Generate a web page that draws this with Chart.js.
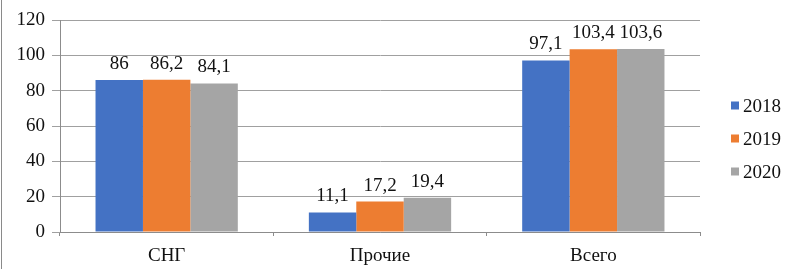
<!DOCTYPE html>
<html>
<head>
<meta charset="utf-8">
<script src="https://cdn.jsdelivr.net/npm/chart.js@4/dist/chart.umd.min.js"></script>
<style>
html,body{margin:0;padding:0;background:#fff;}
#wrap{width:801px;height:269px;position:relative;}
</style>
</head>
<body>
<div id="wrap"><canvas id="c" width="801" height="269"></canvas></div>
<script>
const categories = ['СНГ', 'Прочие', 'Всего'];
const seriesNames = ['2018', '2019', '2020'];
const values2018 = [86, 11.1, 97.1];
const values2019 = [86.2, 17.2, 103.4];
const values2020 = [84.1, 19.4, 103.6];
const yTicks = [0, 20, 40, 60, 80, 100, 120];
const colors = ['#4472C4', '#ED7D31', '#A5A5A5'];

const FONT = "'Liberation Serif', 'Times New Roman', serif";
const FS = 19;

const labelPlugin = {
  id: 'barLabels',
  afterDatasetsDraw(chart) {
    const ctx = chart.ctx;
    ctx.save();
    ctx.font = FS + 'px ' + FONT;
    ctx.fillStyle = '#111';
    ctx.textAlign = 'center';
    ctx.textBaseline = 'alphabetic';
    chart.data.datasets.forEach((ds, i) => {
      const meta = chart.getDatasetMeta(i);
      meta.data.forEach((el, j) => {
        const txt = String(ds.data[j]).replace('.', ',');
        ctx.fillText(txt, el.x, el.y - 11);
      });
    });
    ctx.restore();
  }
};

// legend drawn to the right of the plot, from dataset labels and colours
const legendPlugin = {
  id: 'sideLegend',
  afterDraw(chart) {
    const ctx = chart.ctx;
    const area = chart.chartArea;
    ctx.save();
    ctx.font = FS + 'px ' + FONT;
    ctx.fillStyle = '#111';
    ctx.textAlign = 'left';
    ctx.textBaseline = 'alphabetic';
    const x0 = area.right + 31;
    const yMid = (area.top + area.bottom) / 2 + 12.5;
    const step = 33;
    const n = chart.data.datasets.length;
    chart.data.datasets.forEach((ds, i) => {
      const cy = yMid + (i - (n - 1) / 2) * step;
      ctx.fillStyle = ds.backgroundColor;
      ctx.fillRect(x0, cy - 4, 8, 8);
      ctx.fillStyle = '#111';
      ctx.fillText(ds.label, x0 + 12, cy + 6.5);
    });
    ctx.restore();
  }
};

const borderPlugin = {
  id: 'frame',
  afterDraw(chart) {
    const ctx = chart.ctx;
    ctx.save();
    ctx.strokeStyle = '#8a8a8a';
    ctx.lineWidth = 1;
    ctx.beginPath();
    ctx.moveTo(1.5, 0);
    ctx.lineTo(1.5, chart.height);
    ctx.stroke();
    ctx.restore();
  }
};

new Chart(document.getElementById('c'), {
  type: 'bar',
  data: {
    labels: categories,
    datasets: [
      { label: seriesNames[0], data: values2018, backgroundColor: colors[0] },
      { label: seriesNames[1], data: values2019, backgroundColor: colors[1] },
      { label: seriesNames[2], data: values2020, backgroundColor: colors[2] }
    ]
  },
  options: {
    responsive: false,
    animation: false,
    devicePixelRatio: 1,
    layout: { padding: { top: 20, left: 0, right: 101, bottom: 0 } },
    datasets: { bar: { categoryPercentage: 0.667, barPercentage: 1.0 } },
    plugins: {
      legend: { display: false },
      tooltip: { enabled: false }
    },
    scales: {
      x: {
        grid: { drawOnChartArea: false, color: '#8c8c8c', tickLength: 4 },
        border: { color: '#8c8c8c' },
        ticks: { font: { family: FONT, size: FS }, color: '#111', padding: 9 },
        afterFit(s) { s.height = 37; }
      },
      y: {
        min: 0, max: 120,
        afterBuildTicks(s) { s.ticks = yTicks.map(v => ({ value: v })); },
        grid: { color: '#a0a0a0', tickLength: 8 },
        border: { color: '#8c8c8c' },
        ticks: { font: { family: FONT, size: FS }, color: '#111', padding: 7 },
        afterFit(s) { s.width = 60; }
      }
    }
  },
  plugins: [labelPlugin, legendPlugin, borderPlugin]
});
</script>
</body>
</html>
